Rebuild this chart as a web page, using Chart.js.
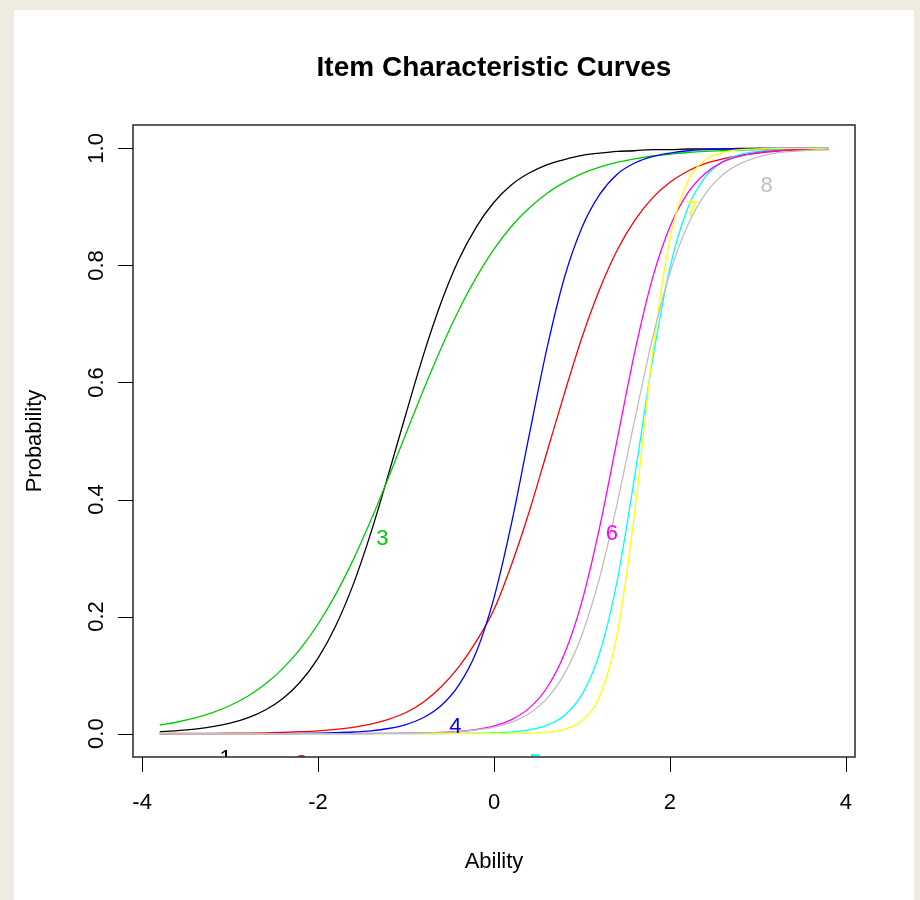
<!DOCTYPE html>
<html>
<head>
<meta charset="utf-8">
<title>Item Characteristic Curves</title>
<script src="https://cdn.jsdelivr.net/npm/chart.js@4.4.0/dist/chart.umd.min.js"></script>
<style>
    html, body { margin: 0; padding: 0; background: #eeebe0; }
    canvas { display: block; }
</style>
</head>
<body>
<canvas id="icc-chart" width="920" height="900"></canvas>
<script>
// ability grid shared by every item curve
const abilityGrid = [-3.8, -3.6, -3.4, -3.2, -3.0, -2.8, -2.6, -2.4, -2.2, -2.0,
    -1.8, -1.6, -1.4, -1.2, -1.0, -0.8, -0.6, -0.4, -0.2,
    0, 0.2, 0.4, 0.6, 0.8, 1.0, 1.2, 1.4, 1.6, 1.8,
    2.0, 2.2, 2.4, 2.6, 2.8, 3.0, 3.2, 3.4, 3.6, 3.8];

// probability of a correct answer
const item1 = [0.0034, 0.0051, 0.0078, 0.0118, 0.0178, 0.0268, 0.0403, 0.060, 0.0886, 0.129,
    0.184, 0.255, 0.343, 0.443, 0.547, 0.648, 0.737, 0.810, 0.866,
    0.908, 0.938, 0.958, 0.972, 0.981, 0.988, 0.992, 0.995, 0.996, 0.998,
    0.998, 0.999, 0.999, 0.999, 1, 1, 1, 1, 1, 1];
const item2 = [0.0001, 0.0002, 0.0003, 0.0004, 0.0006, 0.0009, 0.0013, 0.0020, 0.0032, 0.0048,
    0.0072, 0.0108, 0.0162, 0.0243, 0.0360, 0.0540, 0.0800, 0.114, 0.158,
    0.212, 0.289, 0.379, 0.480, 0.581, 0.677, 0.759, 0.826, 0.877, 0.915,
    0.942, 0.961, 0.974, 0.982, 0.988, 0.992, 0.995, 0.997, 0.998, 0.998];
const item3 = [0.0147, 0.0198, 0.0267, 0.0359, 0.0480, 0.0639, 0.0847, 0.1115, 0.1453, 0.1873,
    0.2379, 0.2973, 0.3645, 0.4373, 0.513, 0.588, 0.659, 0.724, 0.780,
    0.828, 0.867, 0.898, 0.923, 0.942, 0.957, 0.968, 0.976, 0.982, 0.987,
    0.990, 0.993, 0.995, 0.996, 0.997, 0.998, 0.998, 0.999, 0.999, 0.999];
const item4 = [0, 0, 0, 0, 0, 0.0001, 0.0001, 0.0002, 0.0004, 0.0008,
    0.0015, 0.0027, 0.0048, 0.0087, 0.0155, 0.0275, 0.0480, 0.0830, 0.140,
    0.232, 0.360, 0.510, 0.657, 0.779, 0.865, 0.921, 0.956, 0.975, 0.986,
    0.992, 0.996, 0.998, 0.999, 0.999, 1, 1, 1, 1, 1];
const item5 = [0, 0, 0, 0, 0, 0, 0, 0, 0, 0,
    0, 0, 0, 0, 0, 0.0001, 0.0001, 0.0003, 0.0006,
    0.0013, 0.0029, 0.0064, 0.0142, 0.0311, 0.0666, 0.137, 0.261, 0.440, 0.636,
    0.796, 0.897, 0.951, 0.977, 0.990, 0.995, 0.998, 0.999, 1, 1];
const item6 = [0, 0, 0, 0, 0, 0, 0, 0, 0, 0,
    0, 0.0001, 0.0002, 0.0003, 0.0006, 0.0011, 0.0020, 0.0038, 0.0070,
    0.0130, 0.0239, 0.0435, 0.0779, 0.136, 0.226, 0.352, 0.502, 0.652, 0.777,
    0.866, 0.923, 0.957, 0.977, 0.987, 0.993, 0.996, 0.998, 0.999, 0.999];
const item7 = [0, 0, 0, 0, 0, 0, 0, 0, 0, 0,
    0, 0, 0, 0, 0, 0, 0, 0, 0,
    0.0001, 0.0003, 0.0008, 0.0025, 0.0074, 0.0220, 0.0633, 0.169, 0.379, 0.647,
    0.846, 0.943, 0.980, 0.993, 0.998, 0.999, 1, 1, 1, 1];
const item8 = [0, 0, 0, 0, 0, 0, 0, 0, 0, 0,
    0, 0.0001, 0.0002, 0.0003, 0.0006, 0.0011, 0.0020, 0.0035, 0.0062,
    0.0110, 0.0195, 0.0344, 0.0598, 0.102, 0.169, 0.266, 0.393, 0.536, 0.674,
    0.787, 0.868, 0.922, 0.955, 0.974, 0.985, 0.992, 0.995, 0.997, 0.999];

const itemNames = ["1", "2", "3", "4", "5", "6", "7", "8"];
// where each item number is written (ability, probability)
const labelAbility = [-3.05, -2.19, -1.27, -0.44, 0.47, 1.34, 2.25, 3.10];
const labelProb = [-0.043, -0.052, 0.332, 0.011, -0.05, 0.342, 0.894, 0.936];

const xTicks = [-4, -2, 0, 2, 4];
const yTicks = [0, 0.2, 0.4, 0.6, 0.8, 1.0];

const itemSeries = [item1, item2, item3, item4, item5, item6, item7, item8];
const itemColors = ["#000000", "#ff0000", "#00cd00", "#0000ff", "#00ffff", "#ff00ff", "#ffff00", "#bebebe"];

const fontFamily = '"Liberation Sans", Arial, sans-serif';

const rFrame = {
    id: "rFrame",
    beforeDraw(chart) {
        const { ctx, width, height } = chart;
        ctx.save();
        ctx.fillStyle = "#eeebe0";
        ctx.fillRect(0, 0, width, height);
        ctx.fillStyle = "#ffffff";
        ctx.fillRect(14, 10, 900, height - 10);
        ctx.restore();
    },
    afterDatasetsDraw(chart) {
        const { ctx, chartArea: area, scales: { x, y } } = chart;

        // item numbers, clipped to the plot region like R does
        ctx.save();
        ctx.beginPath();
        ctx.rect(area.left, area.top, area.right - area.left, area.bottom - area.top);
        ctx.clip();
        ctx.font = `22px ${fontFamily}`;
        ctx.textAlign = "center";
        ctx.textBaseline = "middle";
        itemNames.forEach((name, i) => {
            ctx.fillStyle = itemColors[i];
            ctx.fillText(name, x.getPixelForValue(labelAbility[i]), y.getPixelForValue(labelProb[i]));
        });
        ctx.restore();

        ctx.save();
        // box
        ctx.strokeStyle = "#353535";
        ctx.lineWidth = 1.6;
        ctx.strokeRect(area.left, area.top, area.right - area.left, area.bottom - area.top);

        // tick marks
        ctx.strokeStyle = "#000000";
        ctx.lineWidth = 1;
        ctx.beginPath();
        xTicks.forEach((v) => {
            const px = Math.round(x.getPixelForValue(v)) + 0.5;
            ctx.moveTo(px, area.bottom);
            ctx.lineTo(px, area.bottom + 15);
        });
        yTicks.forEach((v) => {
            const py = Math.round(y.getPixelForValue(v)) + 0.5;
            ctx.moveTo(area.left - 15, py);
            ctx.lineTo(area.left, py);
        });
        ctx.stroke();

        // tick labels
        ctx.fillStyle = "#000000";
        ctx.font = `22px ${fontFamily}`;
        ctx.textAlign = "center";
        ctx.textBaseline = "middle";
        xTicks.forEach((v) => {
            ctx.fillText(String(v), x.getPixelForValue(v), area.bottom + 46);
        });
        yTicks.forEach((v) => {
            ctx.save();
            ctx.translate(area.left - 36, y.getPixelForValue(v));
            ctx.rotate(-Math.PI / 2);
            ctx.fillText(v.toFixed(1), 0, 0);
            ctx.restore();
        });

        // axis titles
        const midX = (area.left + area.right) / 2;
        const midY = (area.top + area.bottom) / 2;
        ctx.fillText("Ability", midX, area.bottom + 105);
        ctx.save();
        ctx.translate(area.left - 98, midY);
        ctx.rotate(-Math.PI / 2);
        ctx.fillText("Probability", 0, 0);
        ctx.restore();

        // main title
        ctx.font = `bold 28px ${fontFamily}`;
        ctx.fillText("Item Characteristic Curves", midX, 68);
        ctx.restore();
    }
};

const datasets = itemSeries.map((series, i) => ({
    label: itemNames[i],
    data: abilityGrid.map((a, k) => ({ x: a, y: series[k] })),
    borderColor: itemColors[i],
    borderWidth: 1.3,
    pointRadius: 0,
    showLine: true,
    fill: false,
    cubicInterpolationMode: "monotone",
    order: itemSeries.length - 1 - i
}));

new Chart(document.getElementById("icc-chart"), {
    type: "scatter",
    data: { datasets },
    options: {
        responsive: false,
        animation: false,
        devicePixelRatio: 1,
        events: [],
        layout: { padding: { left: 133, top: 125, right: 65, bottom: 143 } },
        plugins: {
            legend: { display: false },
            tooltip: { enabled: false },
            title: { display: false }
        },
        scales: {
            x: { type: "linear", display: false, min: -4.104, max: 4.104 },
            y: { type: "linear", display: false, min: -0.04, max: 1.04 }
        }
    },
    plugins: [rFrame]
});
</script>
</body>
</html>
